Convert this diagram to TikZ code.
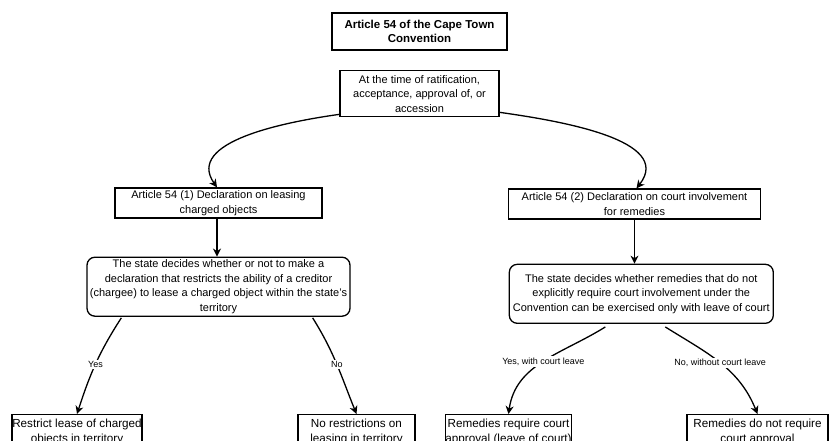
\documentclass[tikz,border=0pt]{standalone}
\usepackage{fontspec}
\setmainfont{Liberation Sans}
\usetikzlibrary{arrows.meta, positioning, calc}
\tikzset{
    heading/.style={rectangle, draw, line width=1.5pt, minimum width=175pt, minimum height=37pt,
                    inner sep=0pt, align=center, font=\fontsize{11.5}{14}\selectfont\bfseries},
    stage/.style={rectangle, draw, line width=1.3pt, inner sep=0pt, align=center,
                  font=\fontsize{11}{14.5}\selectfont},
    choice/.style={stage, rounded corners=8pt},
    outcome/.style={stage, minimum height=34pt, font=\fontsize{11.7}{15}\selectfont},
    flow/.style={-{Stealth[length=8pt, width=8pt, inset=2.5pt]}, line width=1.3pt},
    lbl/.style={font=\fontsize{9}{10}\selectfont, fill=white, inner sep=1.5pt},
}

\begin{document}
\begin{tikzpicture}[x=1pt, y=-1pt]

    \useasboundingbox (0,0) rectangle (830,440);
    \clip (0,0) rectangle (830,440);

    \node[heading] (title) at (419.5,31.5)
        {Article 54 of the Cape Town\\Convention};

    \node[stage, minimum width=159pt, minimum height=46pt] (trigger) at (419.5,93.7)
        {At the time of ratification,\\acceptance, approval of, or\\accession};

    % the two declarations
    \node[stage, minimum width=207pt, minimum height=30pt] (decl1) at (218.5,203)
        {Article 54 (1) Declaration on leasing\\charged objects};

    \node[stage, minimum width=252pt, minimum height=30pt] (decl2) at (634.5,204)
        {Article 54 (2) Declaration on court involvement\\for remedies};

    \node[choice, minimum width=263pt, minimum height=59pt] (choice1) at (218.5,286.7)
        {The state decides whether or not to make a\\declaration that restricts the ability of a creditor\\(chargee) to lease a charged object within the state's\\territory};

    \node[choice, minimum width=264pt, minimum height=59pt] (choice2) at (641.3,293.8)
        {The state decides whether remedies that do not\\explicitly require court involvement under the\\Convention can be exercised only with leave of court};

    % outcomes
    \node[outcome, minimum width=130pt, anchor=north] (restrict) at (77,414)
        {Restrict lease of charged\\objects in territory};

    \node[outcome, minimum width=117pt, anchor=north] (norestrict) at (356.5,414)
        {No restrictions on\\leasing in territory};

    \node[outcome, minimum width=123pt, anchor=north] (courtleave) at (508.5,414)
        {Remedies require court\\approval (leave of court)};

    \node[outcome, minimum width=141pt, anchor=north] (nocourt) at (757.5,414)
        {Remedies do not require\\court approval};

    % Trigger -> declarations
    \draw[flow] ([yshift=3pt]trigger.south west) to[out=188, in=125] ([xshift=-1.5pt]decl1.north);
    \draw[flow] ([yshift=5pt]trigger.south east) to[out=-8, in=52] ([xshift=2pt]decl2.north);

    % Declarations -> decisions
    \draw[flow] ([xshift=-1.5pt]decl1.south) -- ([xshift=-1.5pt]decl1.south |- choice1.north);
    \draw[flow] (decl2.south) -- (decl2.south |- choice2.north);

    % Decision (1) -> outcomes
    \draw[flow] ([xshift=35pt, yshift=-1pt]choice1.south west)
        to[out=-123, in=72] node[lbl, pos=0.5] {Yes} (restrict.north);
    \draw[flow] ([xshift=-38pt, yshift=-1pt]choice1.south east)
        to[out=-58, in=112] node[lbl, pos=0.5] {No} (norestrict.north);

    % Decision (2) -> outcomes
    \draw[flow] ([xshift=-36pt, yshift=-3pt]choice2.south)
        to[out=212, in=82] node[lbl, pos=0.5] {Yes, with court leave} (courtleave.north);
    \draw[flow] ([xshift=24pt, yshift=-3pt]choice2.south)
        to[out=-32, in=112] node[lbl, pos=0.5] {No, without court leave} (nocourt.north);

\end{tikzpicture}
\end{document}
